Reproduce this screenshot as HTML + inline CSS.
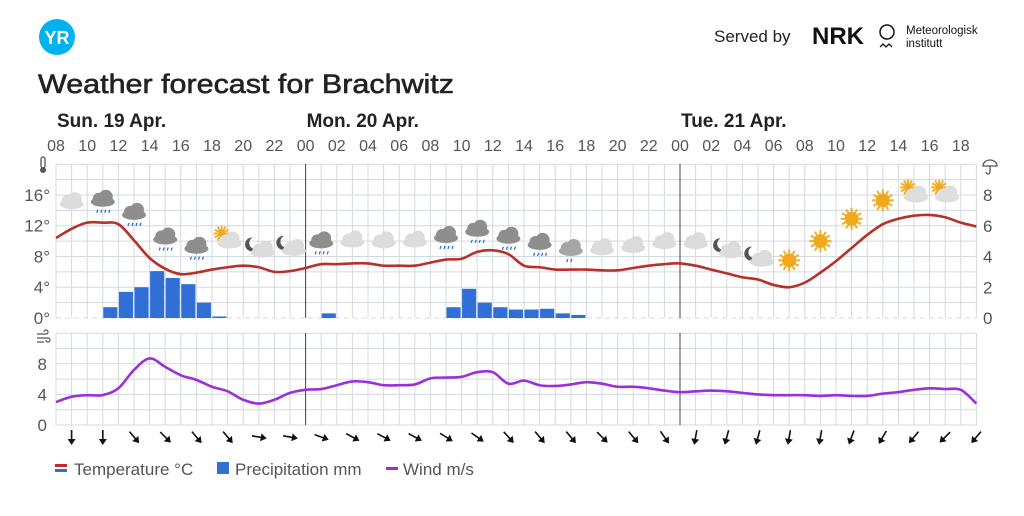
<!DOCTYPE html>
<html><head><meta charset="utf-8"><style>
html,body{margin:0;padding:0;background:#fff;width:1024px;height:516px;overflow:hidden}
svg{display:block;font-family:"Liberation Sans",sans-serif}
</style></head><body>
<svg id="chart" width="1024" height="516" viewBox="0 0 1024 516" xmlns="http://www.w3.org/2000/svg">
<g>
  <circle cx="57" cy="37" r="18" fill="#00b2ee"/>
  <text x="57" y="44" text-anchor="middle" fill="#fff" font-size="18" font-weight="bold">YR</text>
  <text x="714" y="42" font-size="17" fill="#222">Served by</text>
  <text x="812" y="44" font-size="24" font-weight="bold" fill="#111" textLength="52" lengthAdjust="spacingAndGlyphs">NRK</text>
  <g>
    <circle cx="887" cy="32" r="7" fill="none" stroke="#111" stroke-width="1.5"/>
    <path d="M880 47 l3 -3 l3 3 l3 -3 l3 3" fill="none" stroke="#111" stroke-width="1.3"/>
    <text x="906" y="34" font-size="11.5" fill="#111">Meteorologisk</text>
    <text x="906" y="47" font-size="11.5" fill="#111">institutt</text>
  </g>
  <text x="38" y="93" font-size="27" fill="#222" stroke="#222" stroke-width="0.6" textLength="416" lengthAdjust="spacingAndGlyphs">Weather forecast for Brachwitz</text>
</g>
<g id="grid"></g>
<g id="labels"></g>
<g id="marks"></g>
<g>
  <g>
    <rect x="55" y="464" width="12" height="3" fill="#c62828"/><rect x="55" y="469" width="12" height="3" fill="#2f6fd6"/>
    <text x="74" y="475" font-size="17" fill="#555">Temperature °C</text>
  </g>
  <g>
    <rect x="217" y="462" width="12" height="12" fill="#2f6fd6"/>
    <text x="235" y="475" font-size="17" fill="#555">Precipitation mm</text>
  </g>
  <g>
    <rect x="386" y="467" width="12" height="3" fill="#9b30d9"/>
    <text x="403" y="475" font-size="17" fill="#555">Wind m/s</text>
  </g>
</g>
</svg>
<script>
const hourLabels=["08","10","12","14","16","18","20","22","00","02","04","06","08","10","12","14","16","18","20","22","00","02","04","06","08","10","12","14","16","18"];
const dayLabels=["Sun. 19 Apr.","Mon. 20 Apr.","Tue. 21 Apr."];
const dayStartHours=[0,16,40];
const tempTicks=[0,4,8,12,16];
const precipTicks=[0,2,4,6,8];
const windTicks=[0,4,8];
const temperature=[10.4,11.6,12.4,12.4,12.2,10.1,7.8,6.4,5.7,5.9,6.3,6.6,6.8,6.6,6.0,6.1,6.5,7.0,7.0,7.1,7.1,6.8,6.8,6.8,7.2,7.6,7.7,8.6,8.8,8.3,6.8,6.6,6.3,6.3,6.3,6.2,6.2,6.5,6.8,7.0,7.1,6.8,6.3,5.8,5.3,5.0,4.3,4.0,4.6,5.9,7.4,9.1,10.8,12.2,12.9,13.3,13.4,13.1,12.4,11.9];
const precipitation=[0,0,0,0.7,1.7,2.0,3.05,2.6,2.2,1.0,0.1,0,0,0,0,0,0,0.3,0,0,0,0,0,0,0,0.7,1.9,1.0,0.7,0.55,0.55,0.6,0.3,0.2,0,0,0,0,0,0,0,0,0,0,0,0,0,0,0,0,0,0,0,0,0,0,0,0,0];
const wind=[3.0,3.7,3.9,3.9,4.8,7.2,8.7,7.6,6.5,5.9,5.0,4.4,3.3,2.8,3.3,4.2,4.6,4.7,5.2,5.7,5.6,5.2,5.2,5.3,6.1,6.2,6.3,6.9,6.9,5.4,5.8,5.2,5.1,5.3,5.6,5.4,5.0,5.0,4.8,4.5,4.3,4.4,4.5,4.4,4.2,4.0,3.9,3.9,3.9,3.8,3.9,3.8,3.8,4.1,4.3,4.6,4.8,4.7,4.6,2.8];
const windDir=[0,0,-40,-45,-40,-40,-80,-80,-70,-62,-62,-62,-58,-55,-42,-40,-40,-45,-40,-35,10,15,15,10,10,20,30,40,45,40];
const symbolTypes=["cloud","rain","rain","rain","rain","partsun","moon","moon","rain","cloud","cloud","cloud","rain","rain","rain","rain","lightrain","cloud","cloud","cloud","cloud","moon","moon","sun","sun","sun","sun","partsun","partsun"];
const symbolTemps=[15.2,15.5,13.8,10.6,9.4,10.2,9.3,9.5,10.1,10.2,10.1,10.2,10.8,11.6,10.7,9.9,9.1,9.2,9.5,10.0,10.0,9.2,8.1,7.5,10.0,12.9,15.3,16.2,16.2];

const svg=document.getElementById('chart'),NS="http://www.w3.org/2000/svg";
const X0=56,PX=15.6;
const x=h=>X0+h*PX;
const yT=t=>318-t*7.69;
const yP=p=>318-p*15.375;
const yW=w=>425-w*7.65;
function el(tag,attrs,parent){const e=document.createElementNS(NS,tag);for(const k in attrs)e.setAttribute(k,attrs[k]);parent.appendChild(e);return e;}
const G=document.getElementById('grid'),L=document.getElementById('labels'),M=document.getElementById('marks');
for(let h=0;h<=59;h++){
  const l1=el('line',{x1:x(h),x2:x(h),y1:164,y2:318,stroke:'#d3d9e0','stroke-width':1},G);
  
  
  const l2=el('line',{x1:x(h),x2:x(h),y1:333,y2:425,stroke:'#d3d9e0','stroke-width':1},G);
  
  
}
for(let t=0;t<=20;t+=2){
  const l=el('line',{x1:X0,x2:x(59),y1:yT(t),y2:yT(t),stroke:'#d3d9e0','stroke-width':1},G);
  if(t===0)l.setAttribute('stroke-dasharray','5 4');
  
  
}
for(let w=0;w<=12;w+=2){
  const l=el('line',{x1:X0,x2:x(59),y1:yW(w),y2:yW(w),stroke:'#d3d9e0','stroke-width':1},G);
  
  
}
dayStartHours.slice(1).forEach(h=>{
  const a=el('line',{x1:x(h),x2:x(h),y1:164,y2:318,stroke:'#444','stroke-width':1},G);
  
  
  const b=el('line',{x1:x(h),x2:x(h),y1:333,y2:425,stroke:'#444','stroke-width':1},G);
  
  
});
hourLabels.forEach((s,i)=>{const t=el('text',{x:x(i*2),y:151,'text-anchor':'middle','font-size':16,fill:'#555'},L);t.textContent=s;
  
  });
dayLabels.forEach((s,i)=>{const t=el('text',{x:x(dayStartHours[i])+1,y:127,'font-size':19,'font-weight':'bold',fill:'#222'},L);t.textContent=s;
  
  });
tempTicks.forEach(v=>{const t=el('text',{x:50,y:yT(v)+6,'text-anchor':'end','font-size':17,fill:'#555'},L);t.textContent=v+'°';
  
  });
precipTicks.forEach(v=>{const t=el('text',{x:983,y:yP(v)+6,'font-size':17,fill:'#555'},L);t.textContent=v;
  
  });
windTicks.forEach(v=>{const t=el('text',{x:47,y:yW(v)+6,'text-anchor':'end','font-size':17,fill:'#555'},L);t.textContent=v;
  
  });
const th=el('g',{},L);


el('rect',{x:41,y:157,width:4,height:11,rx:2,fill:'none',stroke:'#555','stroke-width':1.3},th);el('circle',{cx:43,cy:170,r:3,fill:'#555'},th);
const um=el('g',{},L);


el('path',{d:'M983 166 a7 6 0 0 1 14 0 z M990 166 v6 a2 2 0 0 1 -4 0',fill:'none',stroke:'#555','stroke-width':1.3},um);
const wi=el('g',{},L);


el('path',{d:'M37 334 h9 a2 2 0 1 0 -2 -2 M37 338 h11 a2 2 0 1 1 -2 2 M37 342 h7',fill:'none',stroke:'#555','stroke-width':1.2},wi);
precipitation.forEach((p,h)=>{if(p<=0)return;
  const r=el('rect',{x:x(h)+0.5,y:yP(p),width:PX-1.5,height:318-yP(p),fill:'#2f6fd6'},M);
  
  });
function smooth(vals,fy){let pts=vals.map((v,i)=>[x(i),fy(v)]);let d='M'+pts[0][0]+' '+pts[0][1];
  for(let i=0;i<pts.length-1;i++){const p0=pts[i-1]||pts[i],p1=pts[i],p2=pts[i+1],p3=pts[i+2]||p2;
    d+=' C'+(p1[0]+(p2[0]-p0[0])/6)+' '+(p1[1]+(p2[1]-p0[1])/6)+' '+(p2[0]-(p3[0]-p1[0])/6)+' '+(p2[1]-(p3[1]-p1[1])/6)+' '+p2[0]+' '+p2[1];}
  return d;}
const tl=el('path',{d:smooth(temperature,yT),fill:'none',stroke:'#b8302a','stroke-width':2.6,'stroke-linejoin':'round'},M);


const wl=el('path',{d:smooth(wind,yW),fill:'none',stroke:'#9b30d9','stroke-width':2.6,'stroke-linejoin':'round'},M);


windDir.forEach((a,i)=>{const cx=x(1+i*2),cy=437;
  const g=el('g',{transform:'translate('+cx+' '+cy+') rotate('+a+')'},M);
  
  
  el('line',{x1:0,y1:-7,x2:0,y2:4,stroke:'#111','stroke-width':1.6},g);
  el('path',{d:'M-4 2 L0 8 L4 2 Z',fill:'#111'},g);});
function cloud(g,cx,cy,c){el('ellipse',{cx:cx,cy:cy+3,rx:12,ry:5,fill:c},g);el('circle',{cx:cx-4,cy:cy,r:6,fill:c},g);el('circle',{cx:cx+3,cy:cy-2,r:7,fill:c},g);}
function sun(g,cx,cy,r){for(let k=0;k<12;k++){const a=k*Math.PI/6;el('line',{x1:cx+Math.cos(a)*r,y1:cy+Math.sin(a)*r,x2:cx+Math.cos(a)*(r+4),y2:cy+Math.sin(a)*(r+4),stroke:'#f2b01e','stroke-width':2},g);}
  el('circle',{cx:cx,cy:cy,r:r,fill:'#f0a820'},g);}
function drops(g,cx,cy,n){for(let k=0;k<n;k++)el('line',{x1:cx-6+k*4+1,y1:cy,x2:cx-6+k*4,y2:cy+3,stroke:'#2f6fd6','stroke-width':1.3},g);}
symbolTypes.forEach((s,i)=>{const cx=x(1+i*2),cy=yT(symbolTemps[i]);
  const g=el('g',{},M);
  
  
  if(s==='cloud')cloud(g,cx,cy,'#dcdcdc');
  else if(s==='rain'){cloud(g,cx,cy,'#8e8e8e');drops(g,cx,cy+11,4);}
  else if(s==='lightrain'){cloud(g,cx,cy,'#a5a5a5');drops(g,cx+2,cy+11,2);}
  else if(s==='partsun'){sun(g,cx-6,cy-6,4);cloud(g,cx+2,cy+1,'#dedede');}
  else if(s==='moon'){el('path',{d:'M'+(cx-6)+' '+(cy-9)+' a7 7 0 1 0 5 11 a6 6 0 1 1 -5 -11z',fill:'#555'},g);cloud(g,cx+4,cy+3,'#dcdcdc');}
  else if(s==='sun')sun(g,cx,cy,7);
});
</script>
</body></html>
